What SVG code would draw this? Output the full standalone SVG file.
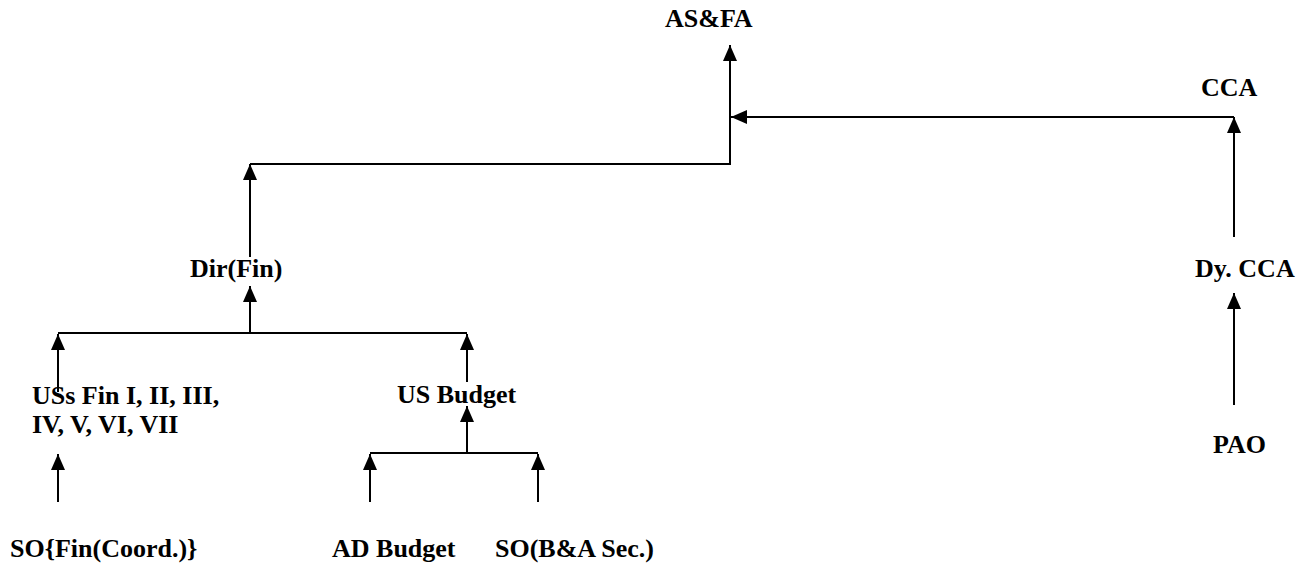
<svg xmlns="http://www.w3.org/2000/svg" width="1306" height="571" viewBox="0 0 1306 571">
<style>
text{font-family:"Liberation Serif","Times New Roman",serif;font-weight:bold;font-size:26px;fill:#000}
.c{fill:none;stroke:#000;stroke-width:2}
</style>
<defs>
<marker id="ah" viewBox="0 0 16 14" refX="16" refY="7" markerWidth="16" markerHeight="14" markerUnits="userSpaceOnUse" orient="auto">
<path d="M0,0 L16,7 L0,14 z" fill="#000"/>
</marker>
</defs>
<rect width="1306" height="571" fill="#fff"/>
<g id="connectors">
<path class="c" d="M58,502 V454" marker-end="url(#ah)"/>
<path class="c" d="M58,392 V334" marker-end="url(#ah)"/>
<path class="c" d="M58,333 H467"/>
<path class="c" d="M467,382 V334" marker-end="url(#ah)"/>
<path class="c" d="M250,333 V286" marker-end="url(#ah)"/>
<path class="c" d="M370,453 H538"/>
<path class="c" d="M370,502 V454" marker-end="url(#ah)"/>
<path class="c" d="M538,502 V454" marker-end="url(#ah)"/>
<path class="c" d="M467,453 V406" marker-end="url(#ah)"/>
<path class="c" d="M250,257 V164" marker-end="url(#ah)"/>
<path class="c" d="M250,164 H730 V45" marker-end="url(#ah)"/>
<path class="c" d="M1234,237 V117" marker-end="url(#ah)"/>
<path class="c" d="M1234,117 H731" marker-end="url(#ah)"/>
<path class="c" d="M1234,405 V293" marker-end="url(#ah)"/>
</g>
<g id="asfa"><text x="665" y="27">AS&amp;FA</text></g>
<g id="cca"><text x="1201" y="96">CCA</text></g>
<g id="dircca"><text x="1195" y="277">Dy. CCA</text></g>
<g id="pao"><text x="1213" y="453">PAO</text></g>
<g id="dirfin"><text x="190" y="277">Dir(Fin)</text></g>
<g id="uss"><text x="32" y="404">USs Fin I, II, III,</text><text x="32" y="433">IV, V, VI, VII</text></g>
<g id="usbudget"><text x="397" y="403">US Budget</text></g>
<g id="sofin"><text x="10" y="557">SO{Fin(Coord.)}</text></g>
<g id="adbudget"><text x="332" y="557">AD Budget</text></g>
<g id="soba"><text x="495" y="557">SO(B&amp;A Sec.)</text></g>
</svg>
